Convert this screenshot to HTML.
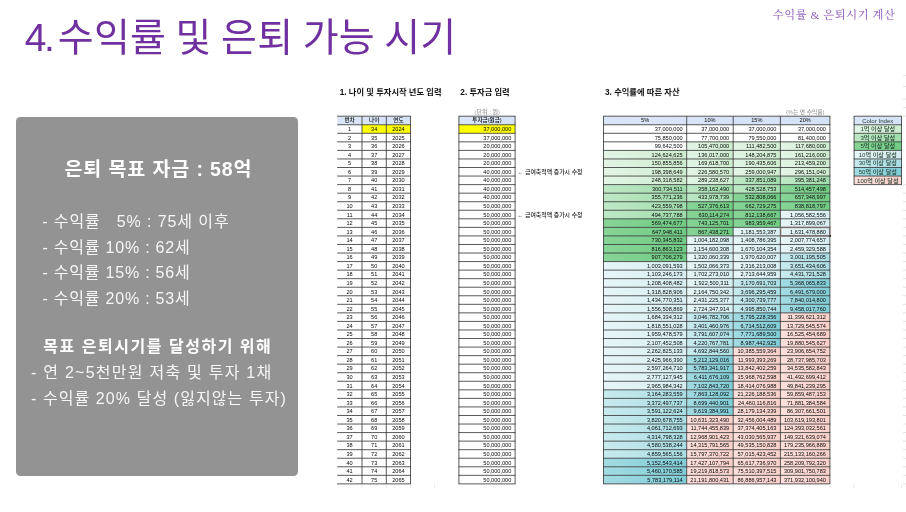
<!DOCTYPE html>
<html lang="ko">
<head>
<meta charset="utf-8">
<title>4. 수익률 및 은퇴 가능 시기</title>
<style>
html,body{margin:0;padding:0;background:#fff;}
body{width:906px;height:512px;position:relative;overflow:hidden;font-family:"Liberation Sans","Noto Sans CJK KR","NanumGothic",sans-serif;}
.sans{font-family:"Liberation Sans","Noto Sans CJK KR","NanumGothic",sans-serif;}
.title{position:absolute;left:24.70px;top:9.10px;font-size:39px;line-height:58px;color:#7030a0;white-space:nowrap;letter-spacing:0.200px;word-spacing:-1.60px;font-weight:400;}
.tag{position:absolute;right:10.6px;top:5.7px;font-size:11.3px;line-height:18px;color:#9263bf;font-weight:500;white-space:nowrap;font-family:"Liberation Serif","Noto Serif CJK KR","Noto Serif CJK SC",serif;letter-spacing:0.55px;}
.card{position:absolute;left:16px;top:117px;width:282px;height:358.5px;background:#939393;border-radius:4.5px;color:#f6f6f6;}
.card div{position:absolute;white-space:nowrap;}
.card .h{font-weight:700;color:#fff;}
.c1{left:0;width:282px;text-align:center;top:36px;font-size:19.5px;line-height:32px;}
.li{font-size:16px;line-height:25.6px;}
.sheet{position:absolute;left:0;top:0;filter:blur(0.28px);}
.sheet text{font-family:"Liberation Sans","Noto Sans CJK KR","NanumGothic",sans-serif;font-weight:500;}
</style>
</head>
<body>
<div class="title sans"><span style="letter-spacing:-2.5px;margin-right:-3.8px;">4.</span> 수익률 및 은퇴 가능 시기</div>
<div class="tag">수익률 &amp; 은퇴시기 계산</div>
<div class="card sans">
<div class="h" style="left:48.40px;top:36.00px;letter-spacing:0.900px;font-size:19.5px;line-height:32px;">은퇴 목표 자금 : 58억</div>
<div class="" style="left:26.30px;top:92.00px;letter-spacing:0.900px;font-size:16px;line-height:25.6px;">- 수익률&nbsp;&nbsp;&nbsp;5% : 75세 이후</div>
<div class="" style="left:26.50px;top:117.60px;letter-spacing:0.780px;font-size:16px;line-height:25.6px;">- 수익률 10% : 62세</div>
<div class="" style="left:26.50px;top:143.20px;letter-spacing:0.780px;font-size:16px;line-height:25.6px;">- 수익률 15% : 56세</div>
<div class="" style="left:26.50px;top:168.80px;letter-spacing:0.780px;font-size:16px;line-height:25.6px;">- 수익률 20% : 53세</div>
<div class="h" style="left:27.20px;top:217.40px;letter-spacing:1.530px;font-size:16px;line-height:25.6px;">목표 은퇴시기를 달성하기 위해</div>
<div class="" style="left:15.00px;top:243.00px;letter-spacing:1.250px;font-size:16px;line-height:25.6px;">- 연 2~5천만원 저축 및 투자 1채</div>
<div class="" style="left:15.00px;top:268.60px;letter-spacing:1.080px;font-size:16px;line-height:25.6px;">- 수익률 20% 달성 (잃지않는 투자)</div>
</div>
<svg class="sheet" width="906" height="512" viewBox="0 0 906 512">
<defs>
<linearGradient id="g1" x1="0" y1="0" x2="1" y2="0"><stop offset="0" stop-color="#e3f5e6"/><stop offset="1" stop-color="#cdeccf"/></linearGradient>
<linearGradient id="g2" x1="0" y1="0" x2="1" y2="0"><stop offset="0" stop-color="#bfe8c6"/><stop offset="1" stop-color="#9fdcab"/></linearGradient>
<linearGradient id="g3" x1="0" y1="0" x2="1" y2="0"><stop offset="0" stop-color="#87d497"/><stop offset="1" stop-color="#70cb83"/></linearGradient>
<linearGradient id="c1" x1="0" y1="0" x2="1" y2="0"><stop offset="0" stop-color="#e6f5f7"/><stop offset="1" stop-color="#d6eef2"/></linearGradient>
<linearGradient id="c2" x1="0" y1="0" x2="1" y2="0"><stop offset="0" stop-color="#c8eaee"/><stop offset="1" stop-color="#a9dde4"/></linearGradient>
<linearGradient id="c3" x1="0" y1="0" x2="1" y2="0"><stop offset="0" stop-color="#a3dbe2"/><stop offset="1" stop-color="#7fcdd7"/></linearGradient>
<linearGradient id="p" x1="0" y1="0" x2="1" y2="0"><stop offset="0" stop-color="#fcdfdb"/><stop offset="1" stop-color="#f9d0ca"/></linearGradient>
<linearGradient id="h" x1="0" y1="0" x2="1" y2="0"><stop offset="0" stop-color="#d9e6f8"/><stop offset="1" stop-color="#d4e2f6"/></linearGradient>
</defs>
<rect x="337.20" y="116.20" width="73.30" height="8.55" fill="url(#h)"/>
<rect x="362.00" y="124.75" width="48.50" height="8.55" fill="#ffff00"/>
<line x1="337.20" y1="116.20" x2="410.90" y2="116.20" stroke="#303030" stroke-width="0.8"/>
<line x1="337.20" y1="124.75" x2="410.90" y2="124.75" stroke="#303030" stroke-width="0.8"/>
<line x1="337.20" y1="133.30" x2="410.90" y2="133.30" stroke="#303030" stroke-width="0.8"/>
<line x1="337.20" y1="141.85" x2="410.90" y2="141.85" stroke="#303030" stroke-width="0.8"/>
<line x1="337.20" y1="150.40" x2="410.90" y2="150.40" stroke="#303030" stroke-width="0.8"/>
<line x1="337.20" y1="158.96" x2="410.90" y2="158.96" stroke="#303030" stroke-width="0.8"/>
<line x1="337.20" y1="167.51" x2="410.90" y2="167.51" stroke="#303030" stroke-width="0.8"/>
<line x1="337.20" y1="176.06" x2="410.90" y2="176.06" stroke="#303030" stroke-width="0.8"/>
<line x1="337.20" y1="184.61" x2="410.90" y2="184.61" stroke="#303030" stroke-width="0.8"/>
<line x1="337.20" y1="193.16" x2="410.90" y2="193.16" stroke="#303030" stroke-width="0.8"/>
<line x1="337.20" y1="201.71" x2="410.90" y2="201.71" stroke="#303030" stroke-width="0.8"/>
<line x1="337.20" y1="210.26" x2="410.90" y2="210.26" stroke="#303030" stroke-width="0.8"/>
<line x1="337.20" y1="218.81" x2="410.90" y2="218.81" stroke="#303030" stroke-width="0.8"/>
<line x1="337.20" y1="227.36" x2="410.90" y2="227.36" stroke="#303030" stroke-width="0.8"/>
<line x1="337.20" y1="235.91" x2="410.90" y2="235.91" stroke="#303030" stroke-width="0.8"/>
<line x1="337.20" y1="244.47" x2="410.90" y2="244.47" stroke="#303030" stroke-width="0.8"/>
<line x1="337.20" y1="253.02" x2="410.90" y2="253.02" stroke="#303030" stroke-width="0.8"/>
<line x1="337.20" y1="261.57" x2="410.90" y2="261.57" stroke="#303030" stroke-width="0.8"/>
<line x1="337.20" y1="270.12" x2="410.90" y2="270.12" stroke="#303030" stroke-width="0.8"/>
<line x1="337.20" y1="278.67" x2="410.90" y2="278.67" stroke="#303030" stroke-width="0.8"/>
<line x1="337.20" y1="287.22" x2="410.90" y2="287.22" stroke="#303030" stroke-width="0.8"/>
<line x1="337.20" y1="295.77" x2="410.90" y2="295.77" stroke="#303030" stroke-width="0.8"/>
<line x1="337.20" y1="304.32" x2="410.90" y2="304.32" stroke="#303030" stroke-width="0.8"/>
<line x1="337.20" y1="312.87" x2="410.90" y2="312.87" stroke="#303030" stroke-width="0.8"/>
<line x1="337.20" y1="321.42" x2="410.90" y2="321.42" stroke="#303030" stroke-width="0.8"/>
<line x1="337.20" y1="329.98" x2="410.90" y2="329.98" stroke="#303030" stroke-width="0.8"/>
<line x1="337.20" y1="338.53" x2="410.90" y2="338.53" stroke="#303030" stroke-width="0.8"/>
<line x1="337.20" y1="347.08" x2="410.90" y2="347.08" stroke="#303030" stroke-width="0.8"/>
<line x1="337.20" y1="355.63" x2="410.90" y2="355.63" stroke="#303030" stroke-width="0.8"/>
<line x1="337.20" y1="364.18" x2="410.90" y2="364.18" stroke="#303030" stroke-width="0.8"/>
<line x1="337.20" y1="372.73" x2="410.90" y2="372.73" stroke="#303030" stroke-width="0.8"/>
<line x1="337.20" y1="381.28" x2="410.90" y2="381.28" stroke="#303030" stroke-width="0.8"/>
<line x1="337.20" y1="389.83" x2="410.90" y2="389.83" stroke="#303030" stroke-width="0.8"/>
<line x1="337.20" y1="398.38" x2="410.90" y2="398.38" stroke="#303030" stroke-width="0.8"/>
<line x1="337.20" y1="406.93" x2="410.90" y2="406.93" stroke="#303030" stroke-width="0.8"/>
<line x1="337.20" y1="415.49" x2="410.90" y2="415.49" stroke="#303030" stroke-width="0.8"/>
<line x1="337.20" y1="424.04" x2="410.90" y2="424.04" stroke="#303030" stroke-width="0.8"/>
<line x1="337.20" y1="432.59" x2="410.90" y2="432.59" stroke="#303030" stroke-width="0.8"/>
<line x1="337.20" y1="441.14" x2="410.90" y2="441.14" stroke="#303030" stroke-width="0.8"/>
<line x1="337.20" y1="449.69" x2="410.90" y2="449.69" stroke="#303030" stroke-width="0.8"/>
<line x1="337.20" y1="458.24" x2="410.90" y2="458.24" stroke="#303030" stroke-width="0.8"/>
<line x1="337.20" y1="466.79" x2="410.90" y2="466.79" stroke="#303030" stroke-width="0.8"/>
<line x1="337.20" y1="475.34" x2="410.90" y2="475.34" stroke="#303030" stroke-width="0.8"/>
<line x1="337.20" y1="483.89" x2="410.90" y2="483.89" stroke="#303030" stroke-width="0.8"/>
<line x1="362.00" y1="116.20" x2="362.00" y2="483.89" stroke="#303030" stroke-width="0.8"/>
<line x1="386.30" y1="116.20" x2="386.30" y2="483.89" stroke="#303030" stroke-width="0.8"/>
<line x1="410.50" y1="116.20" x2="410.50" y2="483.89" stroke="#303030" stroke-width="0.8"/>
<text x="349.60" y="122.49" text-anchor="middle" font-size="5.6" fill="#0a0a0a">번차</text>
<text x="374.15" y="122.49" text-anchor="middle" font-size="5.6" fill="#0a0a0a">나이</text>
<text x="398.40" y="122.49" text-anchor="middle" font-size="5.6" fill="#0a0a0a">연도</text>
<text x="349.60" y="131.04" text-anchor="middle" font-size="5.6" fill="#0a0a0a">1</text>
<text x="374.15" y="131.04" text-anchor="middle" font-size="5.6" fill="#0a0a0a">34</text>
<text x="398.40" y="131.04" text-anchor="middle" font-size="5.6" fill="#0a0a0a">2024</text>
<text x="349.60" y="139.59" text-anchor="middle" font-size="5.6" fill="#0a0a0a">2</text>
<text x="374.15" y="139.59" text-anchor="middle" font-size="5.6" fill="#0a0a0a">35</text>
<text x="398.40" y="139.59" text-anchor="middle" font-size="5.6" fill="#0a0a0a">2025</text>
<text x="349.60" y="148.14" text-anchor="middle" font-size="5.6" fill="#0a0a0a">3</text>
<text x="374.15" y="148.14" text-anchor="middle" font-size="5.6" fill="#0a0a0a">36</text>
<text x="398.40" y="148.14" text-anchor="middle" font-size="5.6" fill="#0a0a0a">2026</text>
<text x="349.60" y="156.70" text-anchor="middle" font-size="5.6" fill="#0a0a0a">4</text>
<text x="374.15" y="156.70" text-anchor="middle" font-size="5.6" fill="#0a0a0a">37</text>
<text x="398.40" y="156.70" text-anchor="middle" font-size="5.6" fill="#0a0a0a">2027</text>
<text x="349.60" y="165.25" text-anchor="middle" font-size="5.6" fill="#0a0a0a">5</text>
<text x="374.15" y="165.25" text-anchor="middle" font-size="5.6" fill="#0a0a0a">38</text>
<text x="398.40" y="165.25" text-anchor="middle" font-size="5.6" fill="#0a0a0a">2028</text>
<text x="349.60" y="173.80" text-anchor="middle" font-size="5.6" fill="#0a0a0a">6</text>
<text x="374.15" y="173.80" text-anchor="middle" font-size="5.6" fill="#0a0a0a">39</text>
<text x="398.40" y="173.80" text-anchor="middle" font-size="5.6" fill="#0a0a0a">2029</text>
<text x="349.60" y="182.35" text-anchor="middle" font-size="5.6" fill="#0a0a0a">7</text>
<text x="374.15" y="182.35" text-anchor="middle" font-size="5.6" fill="#0a0a0a">40</text>
<text x="398.40" y="182.35" text-anchor="middle" font-size="5.6" fill="#0a0a0a">2030</text>
<text x="349.60" y="190.90" text-anchor="middle" font-size="5.6" fill="#0a0a0a">8</text>
<text x="374.15" y="190.90" text-anchor="middle" font-size="5.6" fill="#0a0a0a">41</text>
<text x="398.40" y="190.90" text-anchor="middle" font-size="5.6" fill="#0a0a0a">2031</text>
<text x="349.60" y="199.45" text-anchor="middle" font-size="5.6" fill="#0a0a0a">9</text>
<text x="374.15" y="199.45" text-anchor="middle" font-size="5.6" fill="#0a0a0a">42</text>
<text x="398.40" y="199.45" text-anchor="middle" font-size="5.6" fill="#0a0a0a">2032</text>
<text x="349.60" y="208.00" text-anchor="middle" font-size="5.6" fill="#0a0a0a">10</text>
<text x="374.15" y="208.00" text-anchor="middle" font-size="5.6" fill="#0a0a0a">43</text>
<text x="398.40" y="208.00" text-anchor="middle" font-size="5.6" fill="#0a0a0a">2033</text>
<text x="349.60" y="216.55" text-anchor="middle" font-size="5.6" fill="#0a0a0a">11</text>
<text x="374.15" y="216.55" text-anchor="middle" font-size="5.6" fill="#0a0a0a">44</text>
<text x="398.40" y="216.55" text-anchor="middle" font-size="5.6" fill="#0a0a0a">2034</text>
<text x="349.60" y="225.10" text-anchor="middle" font-size="5.6" fill="#0a0a0a">12</text>
<text x="374.15" y="225.10" text-anchor="middle" font-size="5.6" fill="#0a0a0a">45</text>
<text x="398.40" y="225.10" text-anchor="middle" font-size="5.6" fill="#0a0a0a">2035</text>
<text x="349.60" y="233.65" text-anchor="middle" font-size="5.6" fill="#0a0a0a">13</text>
<text x="374.15" y="233.65" text-anchor="middle" font-size="5.6" fill="#0a0a0a">46</text>
<text x="398.40" y="233.65" text-anchor="middle" font-size="5.6" fill="#0a0a0a">2036</text>
<text x="349.60" y="242.21" text-anchor="middle" font-size="5.6" fill="#0a0a0a">14</text>
<text x="374.15" y="242.21" text-anchor="middle" font-size="5.6" fill="#0a0a0a">47</text>
<text x="398.40" y="242.21" text-anchor="middle" font-size="5.6" fill="#0a0a0a">2037</text>
<text x="349.60" y="250.76" text-anchor="middle" font-size="5.6" fill="#0a0a0a">15</text>
<text x="374.15" y="250.76" text-anchor="middle" font-size="5.6" fill="#0a0a0a">48</text>
<text x="398.40" y="250.76" text-anchor="middle" font-size="5.6" fill="#0a0a0a">2038</text>
<text x="349.60" y="259.31" text-anchor="middle" font-size="5.6" fill="#0a0a0a">16</text>
<text x="374.15" y="259.31" text-anchor="middle" font-size="5.6" fill="#0a0a0a">49</text>
<text x="398.40" y="259.31" text-anchor="middle" font-size="5.6" fill="#0a0a0a">2039</text>
<text x="349.60" y="267.86" text-anchor="middle" font-size="5.6" fill="#0a0a0a">17</text>
<text x="374.15" y="267.86" text-anchor="middle" font-size="5.6" fill="#0a0a0a">50</text>
<text x="398.40" y="267.86" text-anchor="middle" font-size="5.6" fill="#0a0a0a">2040</text>
<text x="349.60" y="276.41" text-anchor="middle" font-size="5.6" fill="#0a0a0a">18</text>
<text x="374.15" y="276.41" text-anchor="middle" font-size="5.6" fill="#0a0a0a">51</text>
<text x="398.40" y="276.41" text-anchor="middle" font-size="5.6" fill="#0a0a0a">2041</text>
<text x="349.60" y="284.96" text-anchor="middle" font-size="5.6" fill="#0a0a0a">19</text>
<text x="374.15" y="284.96" text-anchor="middle" font-size="5.6" fill="#0a0a0a">52</text>
<text x="398.40" y="284.96" text-anchor="middle" font-size="5.6" fill="#0a0a0a">2042</text>
<text x="349.60" y="293.51" text-anchor="middle" font-size="5.6" fill="#0a0a0a">20</text>
<text x="374.15" y="293.51" text-anchor="middle" font-size="5.6" fill="#0a0a0a">53</text>
<text x="398.40" y="293.51" text-anchor="middle" font-size="5.6" fill="#0a0a0a">2043</text>
<text x="349.60" y="302.06" text-anchor="middle" font-size="5.6" fill="#0a0a0a">21</text>
<text x="374.15" y="302.06" text-anchor="middle" font-size="5.6" fill="#0a0a0a">54</text>
<text x="398.40" y="302.06" text-anchor="middle" font-size="5.6" fill="#0a0a0a">2044</text>
<text x="349.60" y="310.61" text-anchor="middle" font-size="5.6" fill="#0a0a0a">22</text>
<text x="374.15" y="310.61" text-anchor="middle" font-size="5.6" fill="#0a0a0a">55</text>
<text x="398.40" y="310.61" text-anchor="middle" font-size="5.6" fill="#0a0a0a">2045</text>
<text x="349.60" y="319.16" text-anchor="middle" font-size="5.6" fill="#0a0a0a">23</text>
<text x="374.15" y="319.16" text-anchor="middle" font-size="5.6" fill="#0a0a0a">56</text>
<text x="398.40" y="319.16" text-anchor="middle" font-size="5.6" fill="#0a0a0a">2046</text>
<text x="349.60" y="327.72" text-anchor="middle" font-size="5.6" fill="#0a0a0a">24</text>
<text x="374.15" y="327.72" text-anchor="middle" font-size="5.6" fill="#0a0a0a">57</text>
<text x="398.40" y="327.72" text-anchor="middle" font-size="5.6" fill="#0a0a0a">2047</text>
<text x="349.60" y="336.27" text-anchor="middle" font-size="5.6" fill="#0a0a0a">25</text>
<text x="374.15" y="336.27" text-anchor="middle" font-size="5.6" fill="#0a0a0a">58</text>
<text x="398.40" y="336.27" text-anchor="middle" font-size="5.6" fill="#0a0a0a">2048</text>
<text x="349.60" y="344.82" text-anchor="middle" font-size="5.6" fill="#0a0a0a">26</text>
<text x="374.15" y="344.82" text-anchor="middle" font-size="5.6" fill="#0a0a0a">59</text>
<text x="398.40" y="344.82" text-anchor="middle" font-size="5.6" fill="#0a0a0a">2049</text>
<text x="349.60" y="353.37" text-anchor="middle" font-size="5.6" fill="#0a0a0a">27</text>
<text x="374.15" y="353.37" text-anchor="middle" font-size="5.6" fill="#0a0a0a">60</text>
<text x="398.40" y="353.37" text-anchor="middle" font-size="5.6" fill="#0a0a0a">2050</text>
<text x="349.60" y="361.92" text-anchor="middle" font-size="5.6" fill="#0a0a0a">28</text>
<text x="374.15" y="361.92" text-anchor="middle" font-size="5.6" fill="#0a0a0a">61</text>
<text x="398.40" y="361.92" text-anchor="middle" font-size="5.6" fill="#0a0a0a">2051</text>
<text x="349.60" y="370.47" text-anchor="middle" font-size="5.6" fill="#0a0a0a">29</text>
<text x="374.15" y="370.47" text-anchor="middle" font-size="5.6" fill="#0a0a0a">62</text>
<text x="398.40" y="370.47" text-anchor="middle" font-size="5.6" fill="#0a0a0a">2052</text>
<text x="349.60" y="379.02" text-anchor="middle" font-size="5.6" fill="#0a0a0a">30</text>
<text x="374.15" y="379.02" text-anchor="middle" font-size="5.6" fill="#0a0a0a">63</text>
<text x="398.40" y="379.02" text-anchor="middle" font-size="5.6" fill="#0a0a0a">2053</text>
<text x="349.60" y="387.57" text-anchor="middle" font-size="5.6" fill="#0a0a0a">31</text>
<text x="374.15" y="387.57" text-anchor="middle" font-size="5.6" fill="#0a0a0a">64</text>
<text x="398.40" y="387.57" text-anchor="middle" font-size="5.6" fill="#0a0a0a">2054</text>
<text x="349.60" y="396.12" text-anchor="middle" font-size="5.6" fill="#0a0a0a">32</text>
<text x="374.15" y="396.12" text-anchor="middle" font-size="5.6" fill="#0a0a0a">65</text>
<text x="398.40" y="396.12" text-anchor="middle" font-size="5.6" fill="#0a0a0a">2055</text>
<text x="349.60" y="404.67" text-anchor="middle" font-size="5.6" fill="#0a0a0a">33</text>
<text x="374.15" y="404.67" text-anchor="middle" font-size="5.6" fill="#0a0a0a">66</text>
<text x="398.40" y="404.67" text-anchor="middle" font-size="5.6" fill="#0a0a0a">2056</text>
<text x="349.60" y="413.23" text-anchor="middle" font-size="5.6" fill="#0a0a0a">34</text>
<text x="374.15" y="413.23" text-anchor="middle" font-size="5.6" fill="#0a0a0a">67</text>
<text x="398.40" y="413.23" text-anchor="middle" font-size="5.6" fill="#0a0a0a">2057</text>
<text x="349.60" y="421.78" text-anchor="middle" font-size="5.6" fill="#0a0a0a">35</text>
<text x="374.15" y="421.78" text-anchor="middle" font-size="5.6" fill="#0a0a0a">68</text>
<text x="398.40" y="421.78" text-anchor="middle" font-size="5.6" fill="#0a0a0a">2058</text>
<text x="349.60" y="430.33" text-anchor="middle" font-size="5.6" fill="#0a0a0a">36</text>
<text x="374.15" y="430.33" text-anchor="middle" font-size="5.6" fill="#0a0a0a">69</text>
<text x="398.40" y="430.33" text-anchor="middle" font-size="5.6" fill="#0a0a0a">2059</text>
<text x="349.60" y="438.88" text-anchor="middle" font-size="5.6" fill="#0a0a0a">37</text>
<text x="374.15" y="438.88" text-anchor="middle" font-size="5.6" fill="#0a0a0a">70</text>
<text x="398.40" y="438.88" text-anchor="middle" font-size="5.6" fill="#0a0a0a">2060</text>
<text x="349.60" y="447.43" text-anchor="middle" font-size="5.6" fill="#0a0a0a">38</text>
<text x="374.15" y="447.43" text-anchor="middle" font-size="5.6" fill="#0a0a0a">71</text>
<text x="398.40" y="447.43" text-anchor="middle" font-size="5.6" fill="#0a0a0a">2061</text>
<text x="349.60" y="455.98" text-anchor="middle" font-size="5.6" fill="#0a0a0a">39</text>
<text x="374.15" y="455.98" text-anchor="middle" font-size="5.6" fill="#0a0a0a">72</text>
<text x="398.40" y="455.98" text-anchor="middle" font-size="5.6" fill="#0a0a0a">2062</text>
<text x="349.60" y="464.53" text-anchor="middle" font-size="5.6" fill="#0a0a0a">40</text>
<text x="374.15" y="464.53" text-anchor="middle" font-size="5.6" fill="#0a0a0a">73</text>
<text x="398.40" y="464.53" text-anchor="middle" font-size="5.6" fill="#0a0a0a">2063</text>
<text x="349.60" y="473.08" text-anchor="middle" font-size="5.6" fill="#0a0a0a">41</text>
<text x="374.15" y="473.08" text-anchor="middle" font-size="5.6" fill="#0a0a0a">74</text>
<text x="398.40" y="473.08" text-anchor="middle" font-size="5.6" fill="#0a0a0a">2064</text>
<text x="349.60" y="481.63" text-anchor="middle" font-size="5.6" fill="#0a0a0a">42</text>
<text x="374.15" y="481.63" text-anchor="middle" font-size="5.6" fill="#0a0a0a">75</text>
<text x="398.40" y="481.63" text-anchor="middle" font-size="5.6" fill="#0a0a0a">2065</text>
<rect x="458.90" y="116.20" width="56.20" height="8.55" fill="url(#h)"/>
<rect x="458.90" y="124.75" width="56.20" height="8.55" fill="#ffff00"/>
<line x1="458.50" y1="116.20" x2="515.50" y2="116.20" stroke="#303030" stroke-width="0.8"/>
<line x1="458.50" y1="124.75" x2="515.50" y2="124.75" stroke="#303030" stroke-width="0.8"/>
<line x1="458.50" y1="133.30" x2="515.50" y2="133.30" stroke="#303030" stroke-width="0.8"/>
<line x1="458.50" y1="141.85" x2="515.50" y2="141.85" stroke="#303030" stroke-width="0.8"/>
<line x1="458.50" y1="150.40" x2="515.50" y2="150.40" stroke="#303030" stroke-width="0.8"/>
<line x1="458.50" y1="158.96" x2="515.50" y2="158.96" stroke="#303030" stroke-width="0.8"/>
<line x1="458.50" y1="167.51" x2="515.50" y2="167.51" stroke="#303030" stroke-width="0.8"/>
<line x1="458.50" y1="176.06" x2="515.50" y2="176.06" stroke="#303030" stroke-width="0.8"/>
<line x1="458.50" y1="184.61" x2="515.50" y2="184.61" stroke="#303030" stroke-width="0.8"/>
<line x1="458.50" y1="193.16" x2="515.50" y2="193.16" stroke="#303030" stroke-width="0.8"/>
<line x1="458.50" y1="201.71" x2="515.50" y2="201.71" stroke="#303030" stroke-width="0.8"/>
<line x1="458.50" y1="210.26" x2="515.50" y2="210.26" stroke="#303030" stroke-width="0.8"/>
<line x1="458.50" y1="218.81" x2="515.50" y2="218.81" stroke="#303030" stroke-width="0.8"/>
<line x1="458.50" y1="227.36" x2="515.50" y2="227.36" stroke="#303030" stroke-width="0.8"/>
<line x1="458.50" y1="235.91" x2="515.50" y2="235.91" stroke="#303030" stroke-width="0.8"/>
<line x1="458.50" y1="244.47" x2="515.50" y2="244.47" stroke="#303030" stroke-width="0.8"/>
<line x1="458.50" y1="253.02" x2="515.50" y2="253.02" stroke="#303030" stroke-width="0.8"/>
<line x1="458.50" y1="261.57" x2="515.50" y2="261.57" stroke="#303030" stroke-width="0.8"/>
<line x1="458.50" y1="270.12" x2="515.50" y2="270.12" stroke="#303030" stroke-width="0.8"/>
<line x1="458.50" y1="278.67" x2="515.50" y2="278.67" stroke="#303030" stroke-width="0.8"/>
<line x1="458.50" y1="287.22" x2="515.50" y2="287.22" stroke="#303030" stroke-width="0.8"/>
<line x1="458.50" y1="295.77" x2="515.50" y2="295.77" stroke="#303030" stroke-width="0.8"/>
<line x1="458.50" y1="304.32" x2="515.50" y2="304.32" stroke="#303030" stroke-width="0.8"/>
<line x1="458.50" y1="312.87" x2="515.50" y2="312.87" stroke="#303030" stroke-width="0.8"/>
<line x1="458.50" y1="321.42" x2="515.50" y2="321.42" stroke="#303030" stroke-width="0.8"/>
<line x1="458.50" y1="329.98" x2="515.50" y2="329.98" stroke="#303030" stroke-width="0.8"/>
<line x1="458.50" y1="338.53" x2="515.50" y2="338.53" stroke="#303030" stroke-width="0.8"/>
<line x1="458.50" y1="347.08" x2="515.50" y2="347.08" stroke="#303030" stroke-width="0.8"/>
<line x1="458.50" y1="355.63" x2="515.50" y2="355.63" stroke="#303030" stroke-width="0.8"/>
<line x1="458.50" y1="364.18" x2="515.50" y2="364.18" stroke="#303030" stroke-width="0.8"/>
<line x1="458.50" y1="372.73" x2="515.50" y2="372.73" stroke="#303030" stroke-width="0.8"/>
<line x1="458.50" y1="381.28" x2="515.50" y2="381.28" stroke="#303030" stroke-width="0.8"/>
<line x1="458.50" y1="389.83" x2="515.50" y2="389.83" stroke="#303030" stroke-width="0.8"/>
<line x1="458.50" y1="398.38" x2="515.50" y2="398.38" stroke="#303030" stroke-width="0.8"/>
<line x1="458.50" y1="406.93" x2="515.50" y2="406.93" stroke="#303030" stroke-width="0.8"/>
<line x1="458.50" y1="415.49" x2="515.50" y2="415.49" stroke="#303030" stroke-width="0.8"/>
<line x1="458.50" y1="424.04" x2="515.50" y2="424.04" stroke="#303030" stroke-width="0.8"/>
<line x1="458.50" y1="432.59" x2="515.50" y2="432.59" stroke="#303030" stroke-width="0.8"/>
<line x1="458.50" y1="441.14" x2="515.50" y2="441.14" stroke="#303030" stroke-width="0.8"/>
<line x1="458.50" y1="449.69" x2="515.50" y2="449.69" stroke="#303030" stroke-width="0.8"/>
<line x1="458.50" y1="458.24" x2="515.50" y2="458.24" stroke="#303030" stroke-width="0.8"/>
<line x1="458.50" y1="466.79" x2="515.50" y2="466.79" stroke="#303030" stroke-width="0.8"/>
<line x1="458.50" y1="475.34" x2="515.50" y2="475.34" stroke="#303030" stroke-width="0.8"/>
<line x1="458.50" y1="483.89" x2="515.50" y2="483.89" stroke="#303030" stroke-width="0.8"/>
<line x1="458.90" y1="116.20" x2="458.90" y2="483.89" stroke="#303030" stroke-width="0.8"/>
<line x1="515.10" y1="116.20" x2="515.10" y2="483.89" stroke="#303030" stroke-width="0.8"/>
<text x="487.00" y="122.49" text-anchor="middle" font-size="5.6" fill="#0a0a0a">투자금(원금)</text>
<text x="511.30" y="131.04" text-anchor="end" font-size="5.6" fill="#0a0a0a">37,000,000</text>
<text x="511.30" y="139.59" text-anchor="end" font-size="5.6" fill="#0a0a0a">37,000,000</text>
<text x="511.30" y="148.14" text-anchor="end" font-size="5.6" fill="#0a0a0a">20,000,000</text>
<text x="511.30" y="156.70" text-anchor="end" font-size="5.6" fill="#0a0a0a">20,000,000</text>
<text x="511.30" y="165.25" text-anchor="end" font-size="5.6" fill="#0a0a0a">20,000,000</text>
<text x="511.30" y="173.80" text-anchor="end" font-size="5.6" fill="#0a0a0a">40,000,000</text>
<text x="511.30" y="182.35" text-anchor="end" font-size="5.6" fill="#0a0a0a">40,000,000</text>
<text x="511.30" y="190.90" text-anchor="end" font-size="5.6" fill="#0a0a0a">40,000,000</text>
<text x="511.30" y="199.45" text-anchor="end" font-size="5.6" fill="#0a0a0a">40,000,000</text>
<text x="511.30" y="208.00" text-anchor="end" font-size="5.6" fill="#0a0a0a">50,000,000</text>
<text x="511.30" y="216.55" text-anchor="end" font-size="5.6" fill="#0a0a0a">50,000,000</text>
<text x="511.30" y="225.10" text-anchor="end" font-size="5.6" fill="#0a0a0a">50,000,000</text>
<text x="511.30" y="233.65" text-anchor="end" font-size="5.6" fill="#0a0a0a">50,000,000</text>
<text x="511.30" y="242.21" text-anchor="end" font-size="5.6" fill="#0a0a0a">50,000,000</text>
<text x="511.30" y="250.76" text-anchor="end" font-size="5.6" fill="#0a0a0a">50,000,000</text>
<text x="511.30" y="259.31" text-anchor="end" font-size="5.6" fill="#0a0a0a">50,000,000</text>
<text x="511.30" y="267.86" text-anchor="end" font-size="5.6" fill="#0a0a0a">50,000,000</text>
<text x="511.30" y="276.41" text-anchor="end" font-size="5.6" fill="#0a0a0a">50,000,000</text>
<text x="511.30" y="284.96" text-anchor="end" font-size="5.6" fill="#0a0a0a">50,000,000</text>
<text x="511.30" y="293.51" text-anchor="end" font-size="5.6" fill="#0a0a0a">50,000,000</text>
<text x="511.30" y="302.06" text-anchor="end" font-size="5.6" fill="#0a0a0a">50,000,000</text>
<text x="511.30" y="310.61" text-anchor="end" font-size="5.6" fill="#0a0a0a">50,000,000</text>
<text x="511.30" y="319.16" text-anchor="end" font-size="5.6" fill="#0a0a0a">50,000,000</text>
<text x="511.30" y="327.72" text-anchor="end" font-size="5.6" fill="#0a0a0a">50,000,000</text>
<text x="511.30" y="336.27" text-anchor="end" font-size="5.6" fill="#0a0a0a">50,000,000</text>
<text x="511.30" y="344.82" text-anchor="end" font-size="5.6" fill="#0a0a0a">50,000,000</text>
<text x="511.30" y="353.37" text-anchor="end" font-size="5.6" fill="#0a0a0a">50,000,000</text>
<text x="511.30" y="361.92" text-anchor="end" font-size="5.6" fill="#0a0a0a">50,000,000</text>
<text x="511.30" y="370.47" text-anchor="end" font-size="5.6" fill="#0a0a0a">50,000,000</text>
<text x="511.30" y="379.02" text-anchor="end" font-size="5.6" fill="#0a0a0a">50,000,000</text>
<text x="511.30" y="387.57" text-anchor="end" font-size="5.6" fill="#0a0a0a">50,000,000</text>
<text x="511.30" y="396.12" text-anchor="end" font-size="5.6" fill="#0a0a0a">50,000,000</text>
<text x="511.30" y="404.67" text-anchor="end" font-size="5.6" fill="#0a0a0a">50,000,000</text>
<text x="511.30" y="413.23" text-anchor="end" font-size="5.6" fill="#0a0a0a">50,000,000</text>
<text x="511.30" y="421.78" text-anchor="end" font-size="5.6" fill="#0a0a0a">50,000,000</text>
<text x="511.30" y="430.33" text-anchor="end" font-size="5.6" fill="#0a0a0a">50,000,000</text>
<text x="511.30" y="438.88" text-anchor="end" font-size="5.6" fill="#0a0a0a">50,000,000</text>
<text x="511.30" y="447.43" text-anchor="end" font-size="5.6" fill="#0a0a0a">50,000,000</text>
<text x="511.30" y="455.98" text-anchor="end" font-size="5.6" fill="#0a0a0a">50,000,000</text>
<text x="511.30" y="464.53" text-anchor="end" font-size="5.6" fill="#0a0a0a">50,000,000</text>
<text x="511.30" y="473.08" text-anchor="end" font-size="5.6" fill="#0a0a0a">50,000,000</text>
<text x="511.30" y="481.63" text-anchor="end" font-size="5.6" fill="#0a0a0a">50,000,000</text>
<text x="487.30" y="113.70" text-anchor="middle" font-size="6.0" fill="#9a9a9a">(단위 : 원)</text>
<text x="517.50" y="173.91" text-anchor="start" font-size="5.9" fill="#1a1a1a">← 급여축적액 증가시 수정</text>
<text x="517.50" y="216.66" text-anchor="start" font-size="5.9" fill="#1a1a1a">← 급여축적액 증가시 수정</text>
<rect x="603.50" y="116.20" width="226.40" height="8.55" fill="url(#h)"/>
<rect x="686.70" y="141.85" width="46.50" height="8.55" fill="url(#g1)"/>
<rect x="733.20" y="141.85" width="47.20" height="8.55" fill="url(#g1)"/>
<rect x="780.40" y="141.85" width="49.50" height="8.55" fill="url(#g1)"/>
<rect x="603.50" y="150.40" width="83.20" height="8.55" fill="url(#g1)"/>
<rect x="686.70" y="150.40" width="46.50" height="8.55" fill="url(#g1)"/>
<rect x="733.20" y="150.40" width="47.20" height="8.55" fill="url(#g1)"/>
<rect x="780.40" y="150.40" width="49.50" height="8.55" fill="url(#g1)"/>
<rect x="603.50" y="158.96" width="83.20" height="8.55" fill="url(#g1)"/>
<rect x="686.70" y="158.96" width="46.50" height="8.55" fill="url(#g1)"/>
<rect x="733.20" y="158.96" width="47.20" height="8.55" fill="url(#g1)"/>
<rect x="780.40" y="158.96" width="49.50" height="8.55" fill="url(#g1)"/>
<rect x="603.50" y="167.51" width="83.20" height="8.55" fill="url(#g1)"/>
<rect x="686.70" y="167.51" width="46.50" height="8.55" fill="url(#g1)"/>
<rect x="733.20" y="167.51" width="47.20" height="8.55" fill="url(#g1)"/>
<rect x="780.40" y="167.51" width="49.50" height="8.55" fill="url(#g1)"/>
<rect x="603.50" y="176.06" width="83.20" height="8.55" fill="url(#g1)"/>
<rect x="686.70" y="176.06" width="46.50" height="8.55" fill="url(#g1)"/>
<rect x="733.20" y="176.06" width="47.20" height="8.55" fill="url(#g2)"/>
<rect x="780.40" y="176.06" width="49.50" height="8.55" fill="url(#g2)"/>
<rect x="603.50" y="184.61" width="83.20" height="8.55" fill="url(#g2)"/>
<rect x="686.70" y="184.61" width="46.50" height="8.55" fill="url(#g2)"/>
<rect x="733.20" y="184.61" width="47.20" height="8.55" fill="url(#g2)"/>
<rect x="780.40" y="184.61" width="49.50" height="8.55" fill="url(#g3)"/>
<rect x="603.50" y="193.16" width="83.20" height="8.55" fill="url(#g2)"/>
<rect x="686.70" y="193.16" width="46.50" height="8.55" fill="url(#g2)"/>
<rect x="733.20" y="193.16" width="47.20" height="8.55" fill="url(#g3)"/>
<rect x="780.40" y="193.16" width="49.50" height="8.55" fill="url(#g3)"/>
<rect x="603.50" y="201.71" width="83.20" height="8.55" fill="url(#g2)"/>
<rect x="686.70" y="201.71" width="46.50" height="8.55" fill="url(#g3)"/>
<rect x="733.20" y="201.71" width="47.20" height="8.55" fill="url(#g3)"/>
<rect x="780.40" y="201.71" width="49.50" height="8.55" fill="url(#g3)"/>
<rect x="603.50" y="210.26" width="83.20" height="8.55" fill="url(#g2)"/>
<rect x="686.70" y="210.26" width="46.50" height="8.55" fill="url(#g3)"/>
<rect x="733.20" y="210.26" width="47.20" height="8.55" fill="url(#g3)"/>
<rect x="780.40" y="210.26" width="49.50" height="8.55" fill="url(#c1)"/>
<rect x="603.50" y="218.81" width="83.20" height="8.55" fill="url(#g3)"/>
<rect x="686.70" y="218.81" width="46.50" height="8.55" fill="url(#g3)"/>
<rect x="733.20" y="218.81" width="47.20" height="8.55" fill="url(#g3)"/>
<rect x="780.40" y="218.81" width="49.50" height="8.55" fill="url(#c1)"/>
<rect x="603.50" y="227.36" width="83.20" height="8.55" fill="url(#g3)"/>
<rect x="686.70" y="227.36" width="46.50" height="8.55" fill="url(#g3)"/>
<rect x="733.20" y="227.36" width="47.20" height="8.55" fill="url(#c1)"/>
<rect x="780.40" y="227.36" width="49.50" height="8.55" fill="url(#c1)"/>
<rect x="603.50" y="235.91" width="83.20" height="8.55" fill="url(#g3)"/>
<rect x="686.70" y="235.91" width="46.50" height="8.55" fill="url(#c1)"/>
<rect x="733.20" y="235.91" width="47.20" height="8.55" fill="url(#c1)"/>
<rect x="780.40" y="235.91" width="49.50" height="8.55" fill="url(#c1)"/>
<rect x="603.50" y="244.47" width="83.20" height="8.55" fill="url(#g3)"/>
<rect x="686.70" y="244.47" width="46.50" height="8.55" fill="url(#c1)"/>
<rect x="733.20" y="244.47" width="47.20" height="8.55" fill="url(#c1)"/>
<rect x="780.40" y="244.47" width="49.50" height="8.55" fill="url(#c1)"/>
<rect x="603.50" y="253.02" width="83.20" height="8.55" fill="url(#g3)"/>
<rect x="686.70" y="253.02" width="46.50" height="8.55" fill="url(#c1)"/>
<rect x="733.20" y="253.02" width="47.20" height="8.55" fill="url(#c1)"/>
<rect x="780.40" y="253.02" width="49.50" height="8.55" fill="url(#c2)"/>
<rect x="603.50" y="261.57" width="83.20" height="8.55" fill="url(#c1)"/>
<rect x="686.70" y="261.57" width="46.50" height="8.55" fill="url(#c1)"/>
<rect x="733.20" y="261.57" width="47.20" height="8.55" fill="url(#c1)"/>
<rect x="780.40" y="261.57" width="49.50" height="8.55" fill="url(#c2)"/>
<rect x="603.50" y="270.12" width="83.20" height="8.55" fill="url(#c1)"/>
<rect x="686.70" y="270.12" width="46.50" height="8.55" fill="url(#c1)"/>
<rect x="733.20" y="270.12" width="47.20" height="8.55" fill="url(#c1)"/>
<rect x="780.40" y="270.12" width="49.50" height="8.55" fill="url(#c2)"/>
<rect x="603.50" y="278.67" width="83.20" height="8.55" fill="url(#c1)"/>
<rect x="686.70" y="278.67" width="46.50" height="8.55" fill="url(#c1)"/>
<rect x="733.20" y="278.67" width="47.20" height="8.55" fill="url(#c2)"/>
<rect x="780.40" y="278.67" width="49.50" height="8.55" fill="url(#c3)"/>
<rect x="603.50" y="287.22" width="83.20" height="8.55" fill="url(#c1)"/>
<rect x="686.70" y="287.22" width="46.50" height="8.55" fill="url(#c1)"/>
<rect x="733.20" y="287.22" width="47.20" height="8.55" fill="url(#c2)"/>
<rect x="780.40" y="287.22" width="49.50" height="8.55" fill="url(#c3)"/>
<rect x="603.50" y="295.77" width="83.20" height="8.55" fill="url(#c1)"/>
<rect x="686.70" y="295.77" width="46.50" height="8.55" fill="url(#c1)"/>
<rect x="733.20" y="295.77" width="47.20" height="8.55" fill="url(#c2)"/>
<rect x="780.40" y="295.77" width="49.50" height="8.55" fill="url(#c3)"/>
<rect x="603.50" y="304.32" width="83.20" height="8.55" fill="url(#c1)"/>
<rect x="686.70" y="304.32" width="46.50" height="8.55" fill="url(#c1)"/>
<rect x="733.20" y="304.32" width="47.20" height="8.55" fill="url(#c2)"/>
<rect x="780.40" y="304.32" width="49.50" height="8.55" fill="url(#c3)"/>
<rect x="603.50" y="312.87" width="83.20" height="8.55" fill="url(#c1)"/>
<rect x="686.70" y="312.87" width="46.50" height="8.55" fill="url(#c2)"/>
<rect x="733.20" y="312.87" width="47.20" height="8.55" fill="url(#c3)"/>
<rect x="780.40" y="312.87" width="49.50" height="8.55" fill="url(#p)"/>
<rect x="603.50" y="321.42" width="83.20" height="8.55" fill="url(#c1)"/>
<rect x="686.70" y="321.42" width="46.50" height="8.55" fill="url(#c2)"/>
<rect x="733.20" y="321.42" width="47.20" height="8.55" fill="url(#c3)"/>
<rect x="780.40" y="321.42" width="49.50" height="8.55" fill="url(#p)"/>
<rect x="603.50" y="329.98" width="83.20" height="8.55" fill="url(#c1)"/>
<rect x="686.70" y="329.98" width="46.50" height="8.55" fill="url(#c2)"/>
<rect x="733.20" y="329.98" width="47.20" height="8.55" fill="url(#c3)"/>
<rect x="780.40" y="329.98" width="49.50" height="8.55" fill="url(#p)"/>
<rect x="603.50" y="338.53" width="83.20" height="8.55" fill="url(#c1)"/>
<rect x="686.70" y="338.53" width="46.50" height="8.55" fill="url(#c2)"/>
<rect x="733.20" y="338.53" width="47.20" height="8.55" fill="url(#c3)"/>
<rect x="780.40" y="338.53" width="49.50" height="8.55" fill="url(#p)"/>
<rect x="603.50" y="347.08" width="83.20" height="8.55" fill="url(#c1)"/>
<rect x="686.70" y="347.08" width="46.50" height="8.55" fill="url(#c2)"/>
<rect x="733.20" y="347.08" width="47.20" height="8.55" fill="url(#p)"/>
<rect x="780.40" y="347.08" width="49.50" height="8.55" fill="url(#p)"/>
<rect x="603.50" y="355.63" width="83.20" height="8.55" fill="url(#c1)"/>
<rect x="686.70" y="355.63" width="46.50" height="8.55" fill="url(#c3)"/>
<rect x="733.20" y="355.63" width="47.20" height="8.55" fill="url(#p)"/>
<rect x="780.40" y="355.63" width="49.50" height="8.55" fill="url(#p)"/>
<rect x="603.50" y="364.18" width="83.20" height="8.55" fill="url(#c1)"/>
<rect x="686.70" y="364.18" width="46.50" height="8.55" fill="url(#c3)"/>
<rect x="733.20" y="364.18" width="47.20" height="8.55" fill="url(#p)"/>
<rect x="780.40" y="364.18" width="49.50" height="8.55" fill="url(#p)"/>
<rect x="603.50" y="372.73" width="83.20" height="8.55" fill="url(#c1)"/>
<rect x="686.70" y="372.73" width="46.50" height="8.55" fill="url(#c3)"/>
<rect x="733.20" y="372.73" width="47.20" height="8.55" fill="url(#p)"/>
<rect x="780.40" y="372.73" width="49.50" height="8.55" fill="url(#p)"/>
<rect x="603.50" y="381.28" width="83.20" height="8.55" fill="url(#c1)"/>
<rect x="686.70" y="381.28" width="46.50" height="8.55" fill="url(#c3)"/>
<rect x="733.20" y="381.28" width="47.20" height="8.55" fill="url(#p)"/>
<rect x="780.40" y="381.28" width="49.50" height="8.55" fill="url(#p)"/>
<rect x="603.50" y="389.83" width="83.20" height="8.55" fill="url(#c2)"/>
<rect x="686.70" y="389.83" width="46.50" height="8.55" fill="url(#c3)"/>
<rect x="733.20" y="389.83" width="47.20" height="8.55" fill="url(#p)"/>
<rect x="780.40" y="389.83" width="49.50" height="8.55" fill="url(#p)"/>
<rect x="603.50" y="398.38" width="83.20" height="8.55" fill="url(#c2)"/>
<rect x="686.70" y="398.38" width="46.50" height="8.55" fill="url(#c3)"/>
<rect x="733.20" y="398.38" width="47.20" height="8.55" fill="url(#p)"/>
<rect x="780.40" y="398.38" width="49.50" height="8.55" fill="url(#p)"/>
<rect x="603.50" y="406.93" width="83.20" height="8.55" fill="url(#c2)"/>
<rect x="686.70" y="406.93" width="46.50" height="8.55" fill="url(#c3)"/>
<rect x="733.20" y="406.93" width="47.20" height="8.55" fill="url(#p)"/>
<rect x="780.40" y="406.93" width="49.50" height="8.55" fill="url(#p)"/>
<rect x="603.50" y="415.49" width="83.20" height="8.55" fill="url(#c2)"/>
<rect x="686.70" y="415.49" width="46.50" height="8.55" fill="url(#p)"/>
<rect x="733.20" y="415.49" width="47.20" height="8.55" fill="url(#p)"/>
<rect x="780.40" y="415.49" width="49.50" height="8.55" fill="url(#p)"/>
<rect x="603.50" y="424.04" width="83.20" height="8.55" fill="url(#c2)"/>
<rect x="686.70" y="424.04" width="46.50" height="8.55" fill="url(#p)"/>
<rect x="733.20" y="424.04" width="47.20" height="8.55" fill="url(#p)"/>
<rect x="780.40" y="424.04" width="49.50" height="8.55" fill="url(#p)"/>
<rect x="603.50" y="432.59" width="83.20" height="8.55" fill="url(#c2)"/>
<rect x="686.70" y="432.59" width="46.50" height="8.55" fill="url(#p)"/>
<rect x="733.20" y="432.59" width="47.20" height="8.55" fill="url(#p)"/>
<rect x="780.40" y="432.59" width="49.50" height="8.55" fill="url(#p)"/>
<rect x="603.50" y="441.14" width="83.20" height="8.55" fill="url(#c2)"/>
<rect x="686.70" y="441.14" width="46.50" height="8.55" fill="url(#p)"/>
<rect x="733.20" y="441.14" width="47.20" height="8.55" fill="url(#p)"/>
<rect x="780.40" y="441.14" width="49.50" height="8.55" fill="url(#p)"/>
<rect x="603.50" y="449.69" width="83.20" height="8.55" fill="url(#c2)"/>
<rect x="686.70" y="449.69" width="46.50" height="8.55" fill="url(#p)"/>
<rect x="733.20" y="449.69" width="47.20" height="8.55" fill="url(#p)"/>
<rect x="780.40" y="449.69" width="49.50" height="8.55" fill="url(#p)"/>
<rect x="603.50" y="458.24" width="83.20" height="8.55" fill="url(#c3)"/>
<rect x="686.70" y="458.24" width="46.50" height="8.55" fill="url(#p)"/>
<rect x="733.20" y="458.24" width="47.20" height="8.55" fill="url(#p)"/>
<rect x="780.40" y="458.24" width="49.50" height="8.55" fill="url(#p)"/>
<rect x="603.50" y="466.79" width="83.20" height="8.55" fill="url(#c3)"/>
<rect x="686.70" y="466.79" width="46.50" height="8.55" fill="url(#p)"/>
<rect x="733.20" y="466.79" width="47.20" height="8.55" fill="url(#p)"/>
<rect x="780.40" y="466.79" width="49.50" height="8.55" fill="url(#p)"/>
<rect x="603.50" y="475.34" width="83.20" height="8.55" fill="url(#c3)"/>
<rect x="686.70" y="475.34" width="46.50" height="8.55" fill="url(#p)"/>
<rect x="733.20" y="475.34" width="47.20" height="8.55" fill="url(#p)"/>
<rect x="780.40" y="475.34" width="49.50" height="8.55" fill="url(#p)"/>
<line x1="603.10" y1="116.20" x2="830.30" y2="116.20" stroke="#303030" stroke-width="0.8"/>
<line x1="603.10" y1="124.75" x2="830.30" y2="124.75" stroke="#303030" stroke-width="0.8"/>
<line x1="603.10" y1="133.30" x2="830.30" y2="133.30" stroke="#303030" stroke-width="0.8"/>
<line x1="603.10" y1="141.85" x2="830.30" y2="141.85" stroke="#303030" stroke-width="0.8"/>
<line x1="603.10" y1="150.40" x2="830.30" y2="150.40" stroke="#303030" stroke-width="0.8"/>
<line x1="603.10" y1="158.96" x2="830.30" y2="158.96" stroke="#303030" stroke-width="0.8"/>
<line x1="603.10" y1="167.51" x2="830.30" y2="167.51" stroke="#303030" stroke-width="0.8"/>
<line x1="603.10" y1="176.06" x2="830.30" y2="176.06" stroke="#303030" stroke-width="0.8"/>
<line x1="603.10" y1="184.61" x2="830.30" y2="184.61" stroke="#303030" stroke-width="0.8"/>
<line x1="603.10" y1="193.16" x2="830.30" y2="193.16" stroke="#303030" stroke-width="0.8"/>
<line x1="603.10" y1="201.71" x2="830.30" y2="201.71" stroke="#303030" stroke-width="0.8"/>
<line x1="603.10" y1="210.26" x2="830.30" y2="210.26" stroke="#303030" stroke-width="0.8"/>
<line x1="603.10" y1="218.81" x2="830.30" y2="218.81" stroke="#303030" stroke-width="0.8"/>
<line x1="603.10" y1="227.36" x2="830.30" y2="227.36" stroke="#303030" stroke-width="0.8"/>
<line x1="603.10" y1="235.91" x2="830.30" y2="235.91" stroke="#303030" stroke-width="0.8"/>
<line x1="603.10" y1="244.47" x2="830.30" y2="244.47" stroke="#303030" stroke-width="0.8"/>
<line x1="603.10" y1="253.02" x2="830.30" y2="253.02" stroke="#303030" stroke-width="0.8"/>
<line x1="603.10" y1="261.57" x2="830.30" y2="261.57" stroke="#303030" stroke-width="0.8"/>
<line x1="603.10" y1="270.12" x2="830.30" y2="270.12" stroke="#303030" stroke-width="0.8"/>
<line x1="603.10" y1="278.67" x2="830.30" y2="278.67" stroke="#303030" stroke-width="0.8"/>
<line x1="603.10" y1="287.22" x2="830.30" y2="287.22" stroke="#303030" stroke-width="0.8"/>
<line x1="603.10" y1="295.77" x2="830.30" y2="295.77" stroke="#303030" stroke-width="0.8"/>
<line x1="603.10" y1="304.32" x2="830.30" y2="304.32" stroke="#303030" stroke-width="0.8"/>
<line x1="603.10" y1="312.87" x2="830.30" y2="312.87" stroke="#303030" stroke-width="0.8"/>
<line x1="603.10" y1="321.42" x2="830.30" y2="321.42" stroke="#303030" stroke-width="0.8"/>
<line x1="603.10" y1="329.98" x2="830.30" y2="329.98" stroke="#303030" stroke-width="0.8"/>
<line x1="603.10" y1="338.53" x2="830.30" y2="338.53" stroke="#303030" stroke-width="0.8"/>
<line x1="603.10" y1="347.08" x2="830.30" y2="347.08" stroke="#303030" stroke-width="0.8"/>
<line x1="603.10" y1="355.63" x2="830.30" y2="355.63" stroke="#303030" stroke-width="0.8"/>
<line x1="603.10" y1="364.18" x2="830.30" y2="364.18" stroke="#303030" stroke-width="0.8"/>
<line x1="603.10" y1="372.73" x2="830.30" y2="372.73" stroke="#303030" stroke-width="0.8"/>
<line x1="603.10" y1="381.28" x2="830.30" y2="381.28" stroke="#303030" stroke-width="0.8"/>
<line x1="603.10" y1="389.83" x2="830.30" y2="389.83" stroke="#303030" stroke-width="0.8"/>
<line x1="603.10" y1="398.38" x2="830.30" y2="398.38" stroke="#303030" stroke-width="0.8"/>
<line x1="603.10" y1="406.93" x2="830.30" y2="406.93" stroke="#303030" stroke-width="0.8"/>
<line x1="603.10" y1="415.49" x2="830.30" y2="415.49" stroke="#303030" stroke-width="0.8"/>
<line x1="603.10" y1="424.04" x2="830.30" y2="424.04" stroke="#303030" stroke-width="0.8"/>
<line x1="603.10" y1="432.59" x2="830.30" y2="432.59" stroke="#303030" stroke-width="0.8"/>
<line x1="603.10" y1="441.14" x2="830.30" y2="441.14" stroke="#303030" stroke-width="0.8"/>
<line x1="603.10" y1="449.69" x2="830.30" y2="449.69" stroke="#303030" stroke-width="0.8"/>
<line x1="603.10" y1="458.24" x2="830.30" y2="458.24" stroke="#303030" stroke-width="0.8"/>
<line x1="603.10" y1="466.79" x2="830.30" y2="466.79" stroke="#303030" stroke-width="0.8"/>
<line x1="603.10" y1="475.34" x2="830.30" y2="475.34" stroke="#303030" stroke-width="0.8"/>
<line x1="603.10" y1="483.89" x2="830.30" y2="483.89" stroke="#303030" stroke-width="0.8"/>
<line x1="603.50" y1="116.20" x2="603.50" y2="483.89" stroke="#303030" stroke-width="0.8"/>
<line x1="686.70" y1="116.20" x2="686.70" y2="483.89" stroke="#303030" stroke-width="0.8"/>
<line x1="733.20" y1="116.20" x2="733.20" y2="483.89" stroke="#303030" stroke-width="0.8"/>
<line x1="780.40" y1="116.20" x2="780.40" y2="483.89" stroke="#303030" stroke-width="0.8"/>
<line x1="829.90" y1="116.20" x2="829.90" y2="483.89" stroke="#303030" stroke-width="0.8"/>
<text x="645.10" y="122.49" text-anchor="middle" font-size="5.6" fill="#0a0a0a">5%</text>
<text x="709.95" y="122.49" text-anchor="middle" font-size="5.6" fill="#0a0a0a">10%</text>
<text x="756.80" y="122.49" text-anchor="middle" font-size="5.6" fill="#0a0a0a">15%</text>
<text x="805.15" y="122.49" text-anchor="middle" font-size="5.6" fill="#0a0a0a">20%</text>
<text x="682.70" y="131.04" text-anchor="end" font-size="5.6" fill="#0a0a0a">37,000,000</text>
<text x="729.20" y="131.04" text-anchor="end" font-size="5.6" fill="#0a0a0a">37,000,000</text>
<text x="776.40" y="131.04" text-anchor="end" font-size="5.6" fill="#0a0a0a">37,000,000</text>
<text x="825.90" y="131.04" text-anchor="end" font-size="5.6" fill="#0a0a0a">37,000,000</text>
<text x="682.70" y="139.59" text-anchor="end" font-size="5.6" fill="#0a0a0a">75,850,000</text>
<text x="729.20" y="139.59" text-anchor="end" font-size="5.6" fill="#0a0a0a">77,700,000</text>
<text x="776.40" y="139.59" text-anchor="end" font-size="5.6" fill="#0a0a0a">79,550,000</text>
<text x="825.90" y="139.59" text-anchor="end" font-size="5.6" fill="#0a0a0a">81,400,000</text>
<text x="682.70" y="148.14" text-anchor="end" font-size="5.6" fill="#0a0a0a">99,642,500</text>
<text x="729.20" y="148.14" text-anchor="end" font-size="5.6" fill="#0a0a0a">105,470,000</text>
<text x="776.40" y="148.14" text-anchor="end" font-size="5.6" fill="#0a0a0a">111,482,500</text>
<text x="825.90" y="148.14" text-anchor="end" font-size="5.6" fill="#0a0a0a">117,680,000</text>
<text x="682.70" y="156.70" text-anchor="end" font-size="5.6" fill="#0a0a0a">124,624,625</text>
<text x="729.20" y="156.70" text-anchor="end" font-size="5.6" fill="#0a0a0a">136,017,000</text>
<text x="776.40" y="156.70" text-anchor="end" font-size="5.6" fill="#0a0a0a">148,204,875</text>
<text x="825.90" y="156.70" text-anchor="end" font-size="5.6" fill="#0a0a0a">161,216,000</text>
<text x="682.70" y="165.25" text-anchor="end" font-size="5.6" fill="#0a0a0a">150,855,856</text>
<text x="729.20" y="165.25" text-anchor="end" font-size="5.6" fill="#0a0a0a">169,618,700</text>
<text x="776.40" y="165.25" text-anchor="end" font-size="5.6" fill="#0a0a0a">190,435,606</text>
<text x="825.90" y="165.25" text-anchor="end" font-size="5.6" fill="#0a0a0a">213,459,200</text>
<text x="682.70" y="173.80" text-anchor="end" font-size="5.6" fill="#0a0a0a">198,398,649</text>
<text x="729.20" y="173.80" text-anchor="end" font-size="5.6" fill="#0a0a0a">226,580,570</text>
<text x="776.40" y="173.80" text-anchor="end" font-size="5.6" fill="#0a0a0a">259,000,947</text>
<text x="825.90" y="173.80" text-anchor="end" font-size="5.6" fill="#0a0a0a">296,151,040</text>
<text x="682.70" y="182.35" text-anchor="end" font-size="5.6" fill="#0a0a0a">248,318,582</text>
<text x="729.20" y="182.35" text-anchor="end" font-size="5.6" fill="#0a0a0a">289,238,627</text>
<text x="776.40" y="182.35" text-anchor="end" font-size="5.6" fill="#0a0a0a">337,851,089</text>
<text x="825.90" y="182.35" text-anchor="end" font-size="5.6" fill="#0a0a0a">395,381,248</text>
<text x="682.70" y="190.90" text-anchor="end" font-size="5.6" fill="#0a0a0a">300,734,511</text>
<text x="729.20" y="190.90" text-anchor="end" font-size="5.6" fill="#0a0a0a">358,162,490</text>
<text x="776.40" y="190.90" text-anchor="end" font-size="5.6" fill="#0a0a0a">428,528,753</text>
<text x="825.90" y="190.90" text-anchor="end" font-size="5.6" fill="#0a0a0a">514,457,498</text>
<text x="682.70" y="199.45" text-anchor="end" font-size="5.6" fill="#0a0a0a">355,771,236</text>
<text x="729.20" y="199.45" text-anchor="end" font-size="5.6" fill="#0a0a0a">433,978,739</text>
<text x="776.40" y="199.45" text-anchor="end" font-size="5.6" fill="#0a0a0a">532,808,066</text>
<text x="825.90" y="199.45" text-anchor="end" font-size="5.6" fill="#0a0a0a">657,348,997</text>
<text x="682.70" y="208.00" text-anchor="end" font-size="5.6" fill="#0a0a0a">423,559,798</text>
<text x="729.20" y="208.00" text-anchor="end" font-size="5.6" fill="#0a0a0a">527,376,613</text>
<text x="776.40" y="208.00" text-anchor="end" font-size="5.6" fill="#0a0a0a">662,729,275</text>
<text x="825.90" y="208.00" text-anchor="end" font-size="5.6" fill="#0a0a0a">838,818,797</text>
<text x="682.70" y="216.55" text-anchor="end" font-size="5.6" fill="#0a0a0a">494,737,788</text>
<text x="729.20" y="216.55" text-anchor="end" font-size="5.6" fill="#0a0a0a">630,114,274</text>
<text x="776.40" y="216.55" text-anchor="end" font-size="5.6" fill="#0a0a0a">812,138,667</text>
<text x="825.90" y="216.55" text-anchor="end" font-size="5.6" fill="#0a0a0a">1,056,582,556</text>
<text x="682.70" y="225.10" text-anchor="end" font-size="5.6" fill="#0a0a0a">569,474,677</text>
<text x="729.20" y="225.10" text-anchor="end" font-size="5.6" fill="#0a0a0a">743,125,701</text>
<text x="776.40" y="225.10" text-anchor="end" font-size="5.6" fill="#0a0a0a">983,959,467</text>
<text x="825.90" y="225.10" text-anchor="end" font-size="5.6" fill="#0a0a0a">1,317,899,067</text>
<text x="682.70" y="233.65" text-anchor="end" font-size="5.6" fill="#0a0a0a">647,948,411</text>
<text x="729.20" y="233.65" text-anchor="end" font-size="5.6" fill="#0a0a0a">867,438,271</text>
<text x="776.40" y="233.65" text-anchor="end" font-size="5.6" fill="#0a0a0a">1,181,553,387</text>
<text x="825.90" y="233.65" text-anchor="end" font-size="5.6" fill="#0a0a0a">1,631,478,880</text>
<text x="682.70" y="242.21" text-anchor="end" font-size="5.6" fill="#0a0a0a">730,345,832</text>
<text x="729.20" y="242.21" text-anchor="end" font-size="5.6" fill="#0a0a0a">1,004,182,098</text>
<text x="776.40" y="242.21" text-anchor="end" font-size="5.6" fill="#0a0a0a">1,408,786,395</text>
<text x="825.90" y="242.21" text-anchor="end" font-size="5.6" fill="#0a0a0a">2,007,774,657</text>
<text x="682.70" y="250.76" text-anchor="end" font-size="5.6" fill="#0a0a0a">816,863,123</text>
<text x="729.20" y="250.76" text-anchor="end" font-size="5.6" fill="#0a0a0a">1,154,600,308</text>
<text x="776.40" y="250.76" text-anchor="end" font-size="5.6" fill="#0a0a0a">1,670,104,354</text>
<text x="825.90" y="250.76" text-anchor="end" font-size="5.6" fill="#0a0a0a">2,459,329,588</text>
<text x="682.70" y="259.31" text-anchor="end" font-size="5.6" fill="#0a0a0a">907,706,279</text>
<text x="729.20" y="259.31" text-anchor="end" font-size="5.6" fill="#0a0a0a">1,320,060,339</text>
<text x="776.40" y="259.31" text-anchor="end" font-size="5.6" fill="#0a0a0a">1,970,620,007</text>
<text x="825.90" y="259.31" text-anchor="end" font-size="5.6" fill="#0a0a0a">3,001,195,505</text>
<text x="682.70" y="267.86" text-anchor="end" font-size="5.6" fill="#0a0a0a">1,003,091,593</text>
<text x="729.20" y="267.86" text-anchor="end" font-size="5.6" fill="#0a0a0a">1,502,066,373</text>
<text x="776.40" y="267.86" text-anchor="end" font-size="5.6" fill="#0a0a0a">2,316,213,008</text>
<text x="825.90" y="267.86" text-anchor="end" font-size="5.6" fill="#0a0a0a">3,651,434,606</text>
<text x="682.70" y="276.41" text-anchor="end" font-size="5.6" fill="#0a0a0a">1,103,246,173</text>
<text x="729.20" y="276.41" text-anchor="end" font-size="5.6" fill="#0a0a0a">1,702,273,010</text>
<text x="776.40" y="276.41" text-anchor="end" font-size="5.6" fill="#0a0a0a">2,713,644,959</text>
<text x="825.90" y="276.41" text-anchor="end" font-size="5.6" fill="#0a0a0a">4,431,721,528</text>
<text x="682.70" y="284.96" text-anchor="end" font-size="5.6" fill="#0a0a0a">1,208,408,482</text>
<text x="729.20" y="284.96" text-anchor="end" font-size="5.6" fill="#0a0a0a">1,922,500,311</text>
<text x="776.40" y="284.96" text-anchor="end" font-size="5.6" fill="#0a0a0a">3,170,691,703</text>
<text x="825.90" y="284.96" text-anchor="end" font-size="5.6" fill="#0a0a0a">5,368,065,833</text>
<text x="682.70" y="293.51" text-anchor="end" font-size="5.6" fill="#0a0a0a">1,318,828,906</text>
<text x="729.20" y="293.51" text-anchor="end" font-size="5.6" fill="#0a0a0a">2,164,750,342</text>
<text x="776.40" y="293.51" text-anchor="end" font-size="5.6" fill="#0a0a0a">3,696,295,459</text>
<text x="825.90" y="293.51" text-anchor="end" font-size="5.6" fill="#0a0a0a">6,491,679,000</text>
<text x="682.70" y="302.06" text-anchor="end" font-size="5.6" fill="#0a0a0a">1,434,770,351</text>
<text x="729.20" y="302.06" text-anchor="end" font-size="5.6" fill="#0a0a0a">2,431,225,377</text>
<text x="776.40" y="302.06" text-anchor="end" font-size="5.6" fill="#0a0a0a">4,300,739,777</text>
<text x="825.90" y="302.06" text-anchor="end" font-size="5.6" fill="#0a0a0a">7,840,014,800</text>
<text x="682.70" y="310.61" text-anchor="end" font-size="5.6" fill="#0a0a0a">1,556,508,869</text>
<text x="729.20" y="310.61" text-anchor="end" font-size="5.6" fill="#0a0a0a">2,724,347,914</text>
<text x="776.40" y="310.61" text-anchor="end" font-size="5.6" fill="#0a0a0a">4,995,850,744</text>
<text x="825.90" y="310.61" text-anchor="end" font-size="5.6" fill="#0a0a0a">9,458,017,760</text>
<text x="682.70" y="319.16" text-anchor="end" font-size="5.6" fill="#0a0a0a">1,684,334,312</text>
<text x="729.20" y="319.16" text-anchor="end" font-size="5.6" fill="#0a0a0a">3,046,782,706</text>
<text x="776.40" y="319.16" text-anchor="end" font-size="5.6" fill="#0a0a0a">5,795,228,356</text>
<text x="825.90" y="319.16" text-anchor="end" font-size="5.6" fill="#0a0a0a">11,399,621,312</text>
<text x="682.70" y="327.72" text-anchor="end" font-size="5.6" fill="#0a0a0a">1,818,551,028</text>
<text x="729.20" y="327.72" text-anchor="end" font-size="5.6" fill="#0a0a0a">3,401,460,976</text>
<text x="776.40" y="327.72" text-anchor="end" font-size="5.6" fill="#0a0a0a">6,714,512,609</text>
<text x="825.90" y="327.72" text-anchor="end" font-size="5.6" fill="#0a0a0a">13,729,545,574</text>
<text x="682.70" y="336.27" text-anchor="end" font-size="5.6" fill="#0a0a0a">1,959,478,579</text>
<text x="729.20" y="336.27" text-anchor="end" font-size="5.6" fill="#0a0a0a">3,791,607,074</text>
<text x="776.40" y="336.27" text-anchor="end" font-size="5.6" fill="#0a0a0a">7,771,689,500</text>
<text x="825.90" y="336.27" text-anchor="end" font-size="5.6" fill="#0a0a0a">16,525,454,689</text>
<text x="682.70" y="344.82" text-anchor="end" font-size="5.6" fill="#0a0a0a">2,107,452,508</text>
<text x="729.20" y="344.82" text-anchor="end" font-size="5.6" fill="#0a0a0a">4,220,767,781</text>
<text x="776.40" y="344.82" text-anchor="end" font-size="5.6" fill="#0a0a0a">8,987,442,925</text>
<text x="825.90" y="344.82" text-anchor="end" font-size="5.6" fill="#0a0a0a">19,880,545,627</text>
<text x="682.70" y="353.37" text-anchor="end" font-size="5.6" fill="#0a0a0a">2,262,825,133</text>
<text x="729.20" y="353.37" text-anchor="end" font-size="5.6" fill="#0a0a0a">4,692,844,560</text>
<text x="776.40" y="353.37" text-anchor="end" font-size="5.6" fill="#0a0a0a">10,385,559,364</text>
<text x="825.90" y="353.37" text-anchor="end" font-size="5.6" fill="#0a0a0a">23,906,654,752</text>
<text x="682.70" y="361.92" text-anchor="end" font-size="5.6" fill="#0a0a0a">2,425,966,390</text>
<text x="729.20" y="361.92" text-anchor="end" font-size="5.6" fill="#0a0a0a">5,212,129,016</text>
<text x="776.40" y="361.92" text-anchor="end" font-size="5.6" fill="#0a0a0a">11,993,393,269</text>
<text x="825.90" y="361.92" text-anchor="end" font-size="5.6" fill="#0a0a0a">28,737,985,703</text>
<text x="682.70" y="370.47" text-anchor="end" font-size="5.6" fill="#0a0a0a">2,597,264,710</text>
<text x="729.20" y="370.47" text-anchor="end" font-size="5.6" fill="#0a0a0a">5,783,341,917</text>
<text x="776.40" y="370.47" text-anchor="end" font-size="5.6" fill="#0a0a0a">13,842,402,259</text>
<text x="825.90" y="370.47" text-anchor="end" font-size="5.6" fill="#0a0a0a">34,535,582,843</text>
<text x="682.70" y="379.02" text-anchor="end" font-size="5.6" fill="#0a0a0a">2,777,127,945</text>
<text x="729.20" y="379.02" text-anchor="end" font-size="5.6" fill="#0a0a0a">6,411,676,109</text>
<text x="776.40" y="379.02" text-anchor="end" font-size="5.6" fill="#0a0a0a">15,968,762,598</text>
<text x="825.90" y="379.02" text-anchor="end" font-size="5.6" fill="#0a0a0a">41,492,699,412</text>
<text x="682.70" y="387.57" text-anchor="end" font-size="5.6" fill="#0a0a0a">2,965,984,342</text>
<text x="729.20" y="387.57" text-anchor="end" font-size="5.6" fill="#0a0a0a">7,102,843,720</text>
<text x="776.40" y="387.57" text-anchor="end" font-size="5.6" fill="#0a0a0a">18,414,076,988</text>
<text x="825.90" y="387.57" text-anchor="end" font-size="5.6" fill="#0a0a0a">49,841,239,295</text>
<text x="682.70" y="396.12" text-anchor="end" font-size="5.6" fill="#0a0a0a">3,164,283,559</text>
<text x="729.20" y="396.12" text-anchor="end" font-size="5.6" fill="#0a0a0a">7,863,128,092</text>
<text x="776.40" y="396.12" text-anchor="end" font-size="5.6" fill="#0a0a0a">21,226,188,536</text>
<text x="825.90" y="396.12" text-anchor="end" font-size="5.6" fill="#0a0a0a">59,859,487,153</text>
<text x="682.70" y="404.67" text-anchor="end" font-size="5.6" fill="#0a0a0a">3,372,497,737</text>
<text x="729.20" y="404.67" text-anchor="end" font-size="5.6" fill="#0a0a0a">8,699,440,901</text>
<text x="776.40" y="404.67" text-anchor="end" font-size="5.6" fill="#0a0a0a">24,460,116,816</text>
<text x="825.90" y="404.67" text-anchor="end" font-size="5.6" fill="#0a0a0a">71,881,384,584</text>
<text x="682.70" y="413.23" text-anchor="end" font-size="5.6" fill="#0a0a0a">3,591,122,624</text>
<text x="729.20" y="413.23" text-anchor="end" font-size="5.6" fill="#0a0a0a">9,619,384,991</text>
<text x="776.40" y="413.23" text-anchor="end" font-size="5.6" fill="#0a0a0a">28,179,134,339</text>
<text x="825.90" y="413.23" text-anchor="end" font-size="5.6" fill="#0a0a0a">86,307,661,501</text>
<text x="682.70" y="421.78" text-anchor="end" font-size="5.6" fill="#0a0a0a">3,820,678,755</text>
<text x="729.20" y="421.78" text-anchor="end" font-size="5.6" fill="#0a0a0a">10,631,323,490</text>
<text x="776.40" y="421.78" text-anchor="end" font-size="5.6" fill="#0a0a0a">32,456,004,489</text>
<text x="825.90" y="421.78" text-anchor="end" font-size="5.6" fill="#0a0a0a">103,619,193,801</text>
<text x="682.70" y="430.33" text-anchor="end" font-size="5.6" fill="#0a0a0a">4,061,712,693</text>
<text x="729.20" y="430.33" text-anchor="end" font-size="5.6" fill="#0a0a0a">11,744,455,839</text>
<text x="776.40" y="430.33" text-anchor="end" font-size="5.6" fill="#0a0a0a">37,374,405,163</text>
<text x="825.90" y="430.33" text-anchor="end" font-size="5.6" fill="#0a0a0a">124,393,032,561</text>
<text x="682.70" y="438.88" text-anchor="end" font-size="5.6" fill="#0a0a0a">4,314,798,328</text>
<text x="729.20" y="438.88" text-anchor="end" font-size="5.6" fill="#0a0a0a">12,968,901,423</text>
<text x="776.40" y="438.88" text-anchor="end" font-size="5.6" fill="#0a0a0a">43,030,565,937</text>
<text x="825.90" y="438.88" text-anchor="end" font-size="5.6" fill="#0a0a0a">149,321,639,074</text>
<text x="682.70" y="447.43" text-anchor="end" font-size="5.6" fill="#0a0a0a">4,580,538,244</text>
<text x="729.20" y="447.43" text-anchor="end" font-size="5.6" fill="#0a0a0a">14,315,791,565</text>
<text x="776.40" y="447.43" text-anchor="end" font-size="5.6" fill="#0a0a0a">49,535,150,828</text>
<text x="825.90" y="447.43" text-anchor="end" font-size="5.6" fill="#0a0a0a">179,235,966,889</text>
<text x="682.70" y="455.98" text-anchor="end" font-size="5.6" fill="#0a0a0a">4,859,565,156</text>
<text x="729.20" y="455.98" text-anchor="end" font-size="5.6" fill="#0a0a0a">15,797,370,722</text>
<text x="776.40" y="455.98" text-anchor="end" font-size="5.6" fill="#0a0a0a">57,015,423,452</text>
<text x="825.90" y="455.98" text-anchor="end" font-size="5.6" fill="#0a0a0a">215,133,160,266</text>
<text x="682.70" y="464.53" text-anchor="end" font-size="5.6" fill="#0a0a0a">5,152,543,414</text>
<text x="729.20" y="464.53" text-anchor="end" font-size="5.6" fill="#0a0a0a">17,427,107,794</text>
<text x="776.40" y="464.53" text-anchor="end" font-size="5.6" fill="#0a0a0a">65,617,736,970</text>
<text x="825.90" y="464.53" text-anchor="end" font-size="5.6" fill="#0a0a0a">258,209,792,320</text>
<text x="682.70" y="473.08" text-anchor="end" font-size="5.6" fill="#0a0a0a">5,460,170,585</text>
<text x="729.20" y="473.08" text-anchor="end" font-size="5.6" fill="#0a0a0a">19,219,818,573</text>
<text x="776.40" y="473.08" text-anchor="end" font-size="5.6" fill="#0a0a0a">75,510,397,515</text>
<text x="825.90" y="473.08" text-anchor="end" font-size="5.6" fill="#0a0a0a">309,901,750,783</text>
<text x="682.70" y="481.63" text-anchor="end" font-size="5.6" fill="#0a0a0a">5,783,179,114</text>
<text x="729.20" y="481.63" text-anchor="end" font-size="5.6" fill="#0a0a0a">21,191,800,431</text>
<text x="776.40" y="481.63" text-anchor="end" font-size="5.6" fill="#0a0a0a">86,886,957,143</text>
<text x="825.90" y="481.63" text-anchor="end" font-size="5.6" fill="#0a0a0a">371,932,100,940</text>
<text x="805.20" y="113.70" text-anchor="middle" font-size="5.75" fill="#9a9a9a">(%는 연 수익률)</text>
<rect x="780.60" y="227.46" width="49.10" height="8.35" fill="none" stroke="#7d6e6e" stroke-width="1.4"/>
<rect x="829.30" y="235.11" width="1.8" height="1.8" fill="#333"/>
<rect x="854.10" y="116.20" width="47.40" height="8.55" fill="url(#h)"/>
<rect x="854.10" y="124.75" width="47.40" height="8.55" fill="url(#g1)"/>
<rect x="854.10" y="133.30" width="47.40" height="8.55" fill="url(#g2)"/>
<rect x="854.10" y="141.85" width="47.40" height="8.55" fill="url(#g3)"/>
<rect x="854.10" y="150.40" width="47.40" height="8.55" fill="url(#c1)"/>
<rect x="854.10" y="158.96" width="47.40" height="8.55" fill="url(#c2)"/>
<rect x="854.10" y="167.51" width="47.40" height="8.55" fill="url(#c3)"/>
<rect x="854.10" y="176.06" width="47.40" height="8.55" fill="url(#p)"/>
<line x1="853.70" y1="116.20" x2="901.90" y2="116.20" stroke="#303030" stroke-width="0.8"/>
<line x1="853.70" y1="124.75" x2="901.90" y2="124.75" stroke="#303030" stroke-width="0.8"/>
<line x1="853.70" y1="133.30" x2="901.90" y2="133.30" stroke="#303030" stroke-width="0.8"/>
<line x1="853.70" y1="141.85" x2="901.90" y2="141.85" stroke="#303030" stroke-width="0.8"/>
<line x1="853.70" y1="150.40" x2="901.90" y2="150.40" stroke="#303030" stroke-width="0.8"/>
<line x1="853.70" y1="158.96" x2="901.90" y2="158.96" stroke="#303030" stroke-width="0.8"/>
<line x1="853.70" y1="167.51" x2="901.90" y2="167.51" stroke="#303030" stroke-width="0.8"/>
<line x1="853.70" y1="176.06" x2="901.90" y2="176.06" stroke="#303030" stroke-width="0.8"/>
<line x1="853.70" y1="184.61" x2="901.90" y2="184.61" stroke="#303030" stroke-width="0.8"/>
<line x1="854.10" y1="116.20" x2="854.10" y2="184.61" stroke="#303030" stroke-width="0.8"/>
<line x1="901.50" y1="116.20" x2="901.50" y2="184.61" stroke="#303030" stroke-width="0.8"/>
<text x="877.80" y="122.67" text-anchor="middle" font-size="6.1" fill="#1f3a2c">Color Index</text>
<text x="877.80" y="131.22" text-anchor="middle" font-size="6.1" fill="#1f3a2c">1억 이상 달성</text>
<text x="877.80" y="139.77" text-anchor="middle" font-size="6.1" fill="#1f3a2c">3억 이상 달성</text>
<text x="877.80" y="148.32" text-anchor="middle" font-size="6.1" fill="#1f3a2c">5억 이상 달성</text>
<text x="877.80" y="156.88" text-anchor="middle" font-size="6.1" fill="#1f3a2c">10억 이상 달성</text>
<text x="877.80" y="165.43" text-anchor="middle" font-size="6.1" fill="#1f3a2c">30억 이상 달성</text>
<text x="877.80" y="173.98" text-anchor="middle" font-size="6.1" fill="#1f3a2c">50억 이상 달성</text>
<text x="877.80" y="182.53" text-anchor="middle" font-size="6.1" fill="#1f3a2c">100억 이상 달성</text>
<text x="339.70" y="95.30" text-anchor="start" font-size="8.25" fill="#111" style="font-weight:700">1. 나이 및 투자시작 년도 입력</text>
<text x="460.30" y="95.30" text-anchor="start" font-size="8.25" fill="#111" style="font-weight:700">2. 투자금 입력</text>
<text x="605.00" y="95.30" text-anchor="start" font-size="8.25" fill="#111" style="font-weight:700">3. 수익률에 따른 자산</text>
<line x1="903.00" y1="75.60" x2="906.00" y2="75.60" stroke="#dcdcdc" stroke-width="0.8"/>
<line x1="903.00" y1="86.50" x2="906.00" y2="86.50" stroke="#dcdcdc" stroke-width="0.8"/>
<line x1="903.00" y1="99.00" x2="906.00" y2="99.00" stroke="#dcdcdc" stroke-width="0.8"/>
<line x1="903.00" y1="107.50" x2="906.00" y2="107.50" stroke="#dcdcdc" stroke-width="0.8"/>
<line x1="903.00" y1="116.20" x2="906.00" y2="116.20" stroke="#dcdcdc" stroke-width="0.8"/>
<line x1="903.00" y1="184.61" x2="906.00" y2="184.61" stroke="#dcdcdc" stroke-width="0.8"/>
<line x1="903.00" y1="193.16" x2="906.00" y2="193.16" stroke="#dcdcdc" stroke-width="0.8"/>
<line x1="903.00" y1="201.71" x2="906.00" y2="201.71" stroke="#dcdcdc" stroke-width="0.8"/>
<line x1="903.00" y1="210.26" x2="906.00" y2="210.26" stroke="#dcdcdc" stroke-width="0.8"/>
<line x1="903.00" y1="218.81" x2="906.00" y2="218.81" stroke="#dcdcdc" stroke-width="0.8"/>
<line x1="903.00" y1="227.36" x2="906.00" y2="227.36" stroke="#dcdcdc" stroke-width="0.8"/>
<line x1="903.00" y1="235.91" x2="906.00" y2="235.91" stroke="#dcdcdc" stroke-width="0.8"/>
<line x1="903.00" y1="244.47" x2="906.00" y2="244.47" stroke="#dcdcdc" stroke-width="0.8"/>
<line x1="903.00" y1="253.02" x2="906.00" y2="253.02" stroke="#dcdcdc" stroke-width="0.8"/>
<line x1="903.00" y1="261.57" x2="906.00" y2="261.57" stroke="#dcdcdc" stroke-width="0.8"/>
<line x1="903.00" y1="270.12" x2="906.00" y2="270.12" stroke="#dcdcdc" stroke-width="0.8"/>
<line x1="903.00" y1="278.67" x2="906.00" y2="278.67" stroke="#dcdcdc" stroke-width="0.8"/>
<line x1="903.00" y1="287.22" x2="906.00" y2="287.22" stroke="#dcdcdc" stroke-width="0.8"/>
<line x1="903.00" y1="295.77" x2="906.00" y2="295.77" stroke="#dcdcdc" stroke-width="0.8"/>
<line x1="903.00" y1="304.32" x2="906.00" y2="304.32" stroke="#dcdcdc" stroke-width="0.8"/>
<line x1="903.00" y1="312.87" x2="906.00" y2="312.87" stroke="#dcdcdc" stroke-width="0.8"/>
<line x1="903.00" y1="321.42" x2="906.00" y2="321.42" stroke="#dcdcdc" stroke-width="0.8"/>
<line x1="903.00" y1="329.98" x2="906.00" y2="329.98" stroke="#dcdcdc" stroke-width="0.8"/>
<line x1="903.00" y1="338.53" x2="906.00" y2="338.53" stroke="#dcdcdc" stroke-width="0.8"/>
<line x1="903.00" y1="347.08" x2="906.00" y2="347.08" stroke="#dcdcdc" stroke-width="0.8"/>
<line x1="903.00" y1="355.63" x2="906.00" y2="355.63" stroke="#dcdcdc" stroke-width="0.8"/>
<line x1="903.00" y1="364.18" x2="906.00" y2="364.18" stroke="#dcdcdc" stroke-width="0.8"/>
<line x1="903.00" y1="372.73" x2="906.00" y2="372.73" stroke="#dcdcdc" stroke-width="0.8"/>
<line x1="903.00" y1="381.28" x2="906.00" y2="381.28" stroke="#dcdcdc" stroke-width="0.8"/>
<line x1="903.00" y1="389.83" x2="906.00" y2="389.83" stroke="#dcdcdc" stroke-width="0.8"/>
<line x1="903.00" y1="398.38" x2="906.00" y2="398.38" stroke="#dcdcdc" stroke-width="0.8"/>
<line x1="903.00" y1="406.93" x2="906.00" y2="406.93" stroke="#dcdcdc" stroke-width="0.8"/>
<line x1="903.00" y1="415.49" x2="906.00" y2="415.49" stroke="#dcdcdc" stroke-width="0.8"/>
<line x1="903.00" y1="424.04" x2="906.00" y2="424.04" stroke="#dcdcdc" stroke-width="0.8"/>
<line x1="903.00" y1="432.59" x2="906.00" y2="432.59" stroke="#dcdcdc" stroke-width="0.8"/>
<line x1="903.00" y1="441.14" x2="906.00" y2="441.14" stroke="#dcdcdc" stroke-width="0.8"/>
<line x1="903.00" y1="449.69" x2="906.00" y2="449.69" stroke="#dcdcdc" stroke-width="0.8"/>
<line x1="903.00" y1="458.24" x2="906.00" y2="458.24" stroke="#dcdcdc" stroke-width="0.8"/>
<line x1="903.00" y1="466.79" x2="906.00" y2="466.79" stroke="#dcdcdc" stroke-width="0.8"/>
<line x1="903.00" y1="475.34" x2="906.00" y2="475.34" stroke="#dcdcdc" stroke-width="0.8"/>
<line x1="903.00" y1="483.89" x2="906.00" y2="483.89" stroke="#dcdcdc" stroke-width="0.8"/>
<line x1="362.00" y1="484.39" x2="362.00" y2="487.89" stroke="#e4e4e4" stroke-width="0.8"/>
<line x1="386.30" y1="484.39" x2="386.30" y2="487.89" stroke="#e4e4e4" stroke-width="0.8"/>
<line x1="410.50" y1="484.39" x2="410.50" y2="487.89" stroke="#e4e4e4" stroke-width="0.8"/>
<line x1="434.50" y1="484.39" x2="434.50" y2="487.89" stroke="#e4e4e4" stroke-width="0.8"/>
<line x1="686.70" y1="484.39" x2="686.70" y2="487.89" stroke="#e4e4e4" stroke-width="0.8"/>
<line x1="733.20" y1="484.39" x2="733.20" y2="487.89" stroke="#e4e4e4" stroke-width="0.8"/>
<line x1="780.40" y1="484.39" x2="780.40" y2="487.89" stroke="#e4e4e4" stroke-width="0.8"/>
<line x1="829.90" y1="484.39" x2="829.90" y2="487.89" stroke="#e4e4e4" stroke-width="0.8"/>
<line x1="854.10" y1="484.39" x2="854.10" y2="487.89" stroke="#e4e4e4" stroke-width="0.8"/>
<line x1="901.50" y1="484.39" x2="901.50" y2="487.89" stroke="#e4e4e4" stroke-width="0.8"/>
</svg>
</body>
</html>
